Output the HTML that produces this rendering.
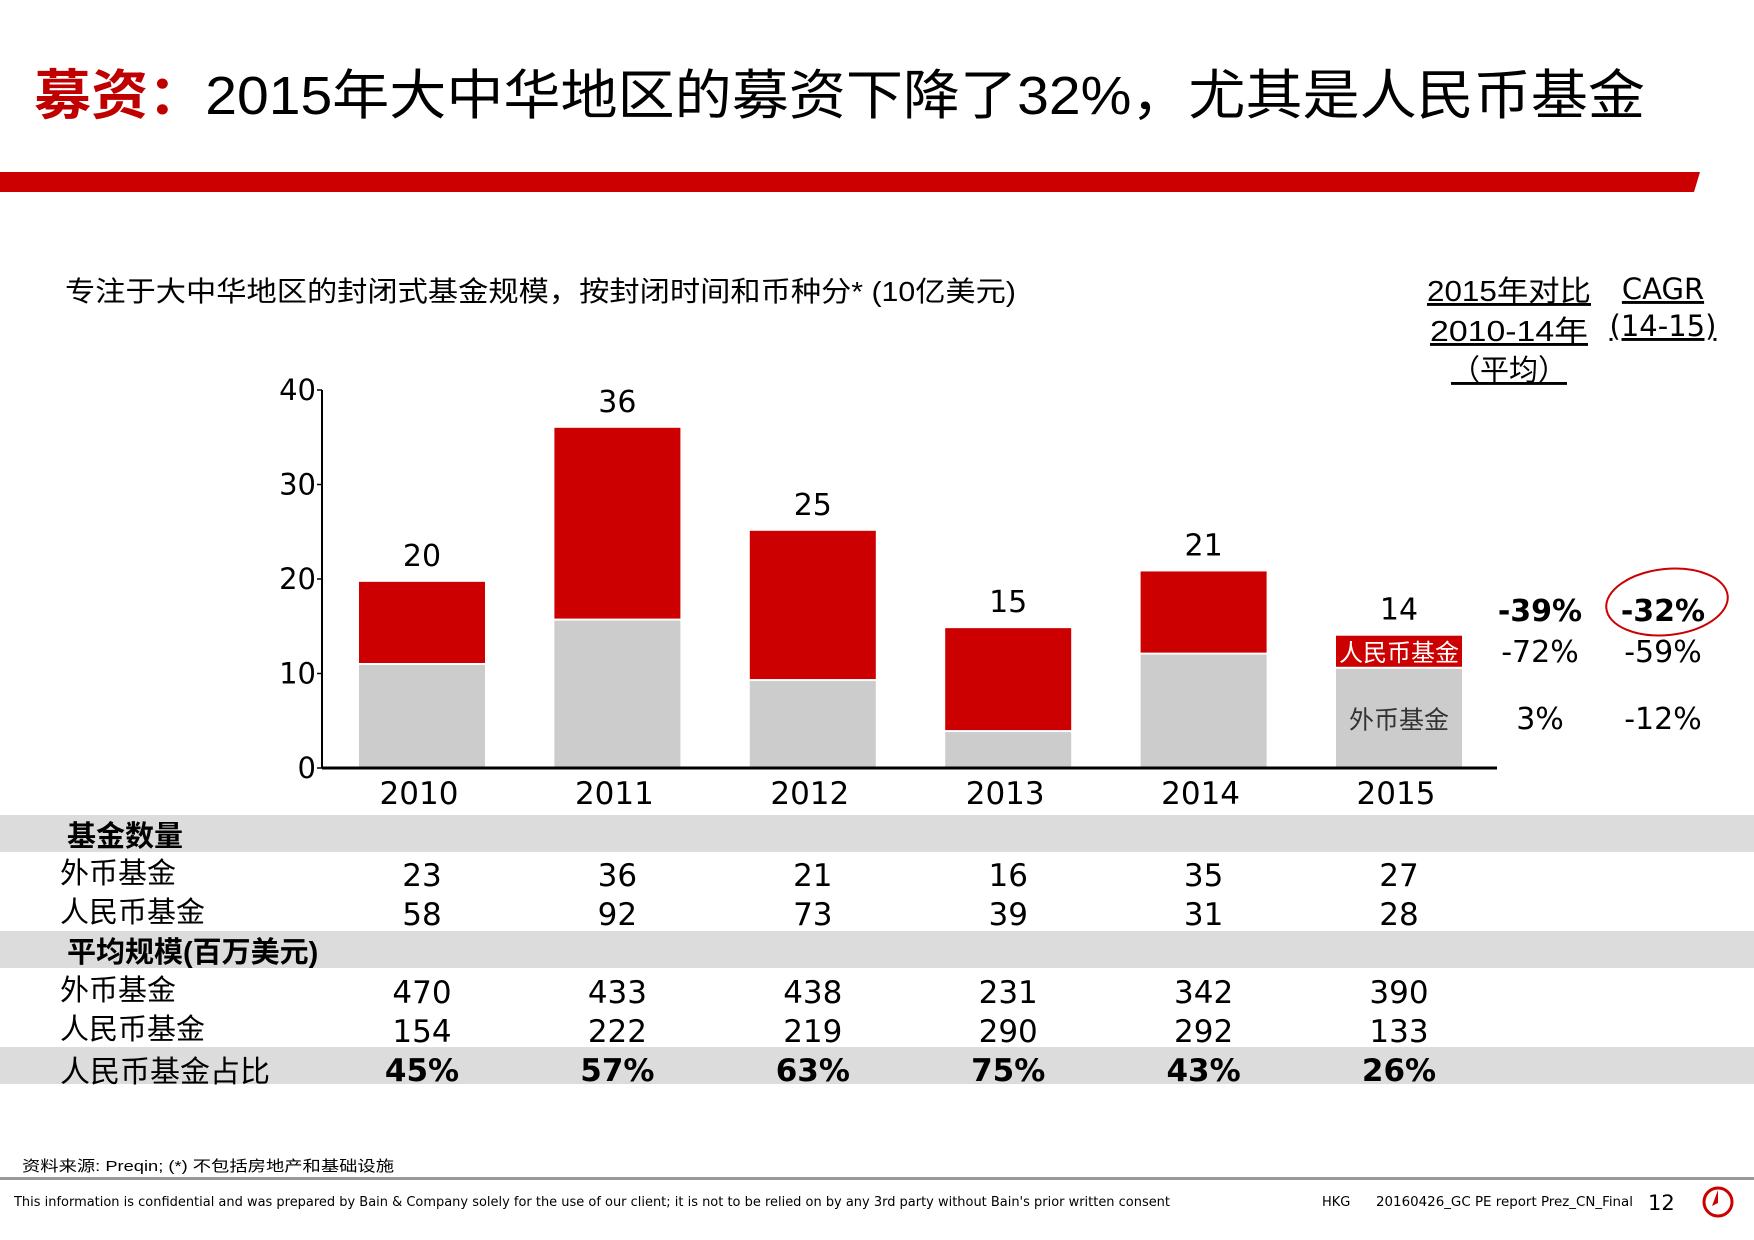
<!DOCTYPE html>
<html><head><meta charset="utf-8"><style>
html,body{margin:0;padding:0;background:#fff;}
svg{display:block;font-family:"DejaVu Sans","Liberation Sans","Noto Sans CJK SC",sans-serif;}
</style></head><body>
<svg id="c" width="1754" height="1240" viewBox="0 0 1754 1240" xmlns="http://www.w3.org/2000/svg">
<g>
<text x="34" y="114" font-size="54" textLength="1611" lengthAdjust="spacingAndGlyphs" font-family="Liberation Sans,Noto Sans CJK SC,sans-serif"><tspan fill="#c00000" font-weight="bold">募资：</tspan><tspan fill="#000">2015年大中华地区的募资下降了32%，尤其是人民币基金</tspan></text>
</g>
<polygon points="0,172 1700,172 1694,192 0,192" fill="#cc0000"/>
<text x="65" y="301" font-size="28" textLength="951" lengthAdjust="spacingAndGlyphs" fill="#000" font-family="Liberation Sans,Noto Sans CJK SC,sans-serif">专注于大中华地区的封闭式基金规模，按封闭时间和币种分* (10亿美元)</text>
<g font-size="29" fill="#000" text-anchor="middle" text-decoration="underline" font-family="Liberation Sans,Noto Sans CJK SC,sans-serif">
<text x="1509" y="301" textLength="164" lengthAdjust="spacingAndGlyphs">2015年对比</text>
<text x="1509" y="341" textLength="158" lengthAdjust="spacingAndGlyphs">2010-14年</text>
<text x="1509" y="380">（平均）</text>
</g>
<g font-size="29" fill="#000" text-anchor="middle" text-decoration="underline">
<text x="1663" y="299">CAGR</text>
<text x="1663" y="336">(14-15)</text>
</g>
<g id="chart"></g>
<ellipse cx="1667" cy="602" rx="61" ry="33" fill="none" stroke="#cc0000" stroke-width="2" transform="rotate(-6 1667 602)"/>
<g id="table"></g>
<text x="22" y="1171" font-size="15" fill="#000" textLength="372" lengthAdjust="spacingAndGlyphs" font-family="Liberation Sans,Noto Sans CJK SC,sans-serif">资料来源: Preqin; (*) 不包括房地产和基础设施</text>
<rect x="0" y="1177" width="1754" height="3" fill="#999"/>
<text x="14" y="1206" font-size="13" fill="#000" textLength="1156" lengthAdjust="spacingAndGlyphs">This information is confidential and was prepared by Bain &amp; Company solely for the use of our client; it is not to be relied on by any 3rd party without Bain's prior written consent</text>
<text x="1322" y="1206" font-size="13" fill="#000">HKG</text>
<text x="1376" y="1206" font-size="13" fill="#000" textLength="257" lengthAdjust="spacingAndGlyphs">20160426_GC PE report Prez_CN_Final</text>
<text x="1648" y="1210" font-size="21" fill="#000">12</text>
<g>
<circle cx="1718" cy="1202" r="14" fill="none" stroke="#cc0000" stroke-width="3"/>
<polygon points="1718,1190 1712,1206 1718,1203" fill="#cc0000"/>
</g>
</svg>
<script>
const years = ["2010","2011","2012","2013","2014","2015"];
const foreignValues = [10.9, 15.6, 9.2, 3.8, 12.0, 10.5];
const rmbValues = [8.8, 20.4, 15.9, 11.0, 8.8, 3.5];
const totalLabels = ["20","36","25","15","21","14"];
const yTicks = [0,10,20,30,40];
const rowLabels = ["外币基金","人民币基金","外币基金","人民币基金","人民币基金占比"];
const countForeign = ["23","36","21","16","35","27"];
const countRmb = ["58","92","73","39","31","28"];
const sizeForeign = ["470","433","438","231","342","390"];
const sizeRmb = ["154","222","219","290","292","133"];
const rmbShare = ["45%","57%","63%","75%","43%","26%"];
const cmpTotal = ["-39%","-32%"];
const cmpRmb = ["-72%","-59%"];
const cmpForeign = ["3%","-12%"];

const NS = "http://www.w3.org/2000/svg";
function mk(tag, attrs, parent, txt){const e=document.createElementNS(NS,tag);for(const k in attrs)e.setAttribute(k,attrs[k]);if(txt!==undefined)e.textContent=txt;parent.appendChild(e);return e;}
const chart = document.getElementById("chart");
const y0 = 768, yPer = 9.45, x0 = 322, xEnd = 1497;
const yScale = v => y0 - v*yPer;
const xCenter = i => 422 + i*195.4;
const bw = 126;

for (const t of yTicks){
  const tx = mk("text",{x:x0-6,y:yScale(t)+10,"font-size":29,"text-anchor":"end",fill:"#000"},chart,String(t));
  
  
  const tk = mk("line",{x1:x0-5,x2:x0,y1:yScale(t),y2:yScale(t),stroke:"#000","stroke-width":1.5},chart);
  
  
}
years.forEach((yr,i)=>{
  const cx = xCenter(i), x = cx-bw/2;
  const f = foreignValues[i], r = rmbValues[i];
  const g = mk("rect",{x:x,y:yScale(f),width:bw,height:y0-yScale(f),fill:"#cccccc"},chart);
  
  
  const rd = mk("rect",{x:x,y:yScale(f+r),width:bw,height:yScale(f)-yScale(f+r)-2,fill:"#cc0000"},chart);
  
  
  const tl = mk("text",{x:cx,y:yScale(f+r)-16,"font-size":30,"text-anchor":"middle",fill:"#000"},chart,totalLabels[i]);
  
  
  const xl = mk("text",{x:cx-3,y:804,"font-size":31,"text-anchor":"middle",fill:"#000"},chart,yr);
  
  
  if(i===years.length-1){
    const a = mk("text",{x:cx,y:yScale(f+r/2)+9,"font-size":24,"text-anchor":"middle",fill:"#fff","font-family":"Liberation Sans,Noto Sans CJK SC,sans-serif"},chart,"人民币基金");
    
    
    const b = mk("text",{x:cx,y:yScale(f/2)+10,"font-size":25,"text-anchor":"middle",fill:"#333","font-family":"Liberation Sans,Noto Sans CJK SC,sans-serif"},chart,"外币基金");
    
    
  }
});
const ax = mk("line",{x1:x0,x2:x0,y1:yScale(40),y2:y0,stroke:"#000","stroke-width":2},chart);


const bx = mk("line",{x1:x0,x2:xEnd,y1:y0,y2:y0,stroke:"#000","stroke-width":3},chart);



const cmpX = [1540,1663];
[[cmpTotal,611,true],[cmpRmb,652,false],[cmpForeign,719,false]].forEach(([arr,y,bold],ri)=>{
  arr.forEach((v,ci)=>{
    const t = mk("text",{x:cmpX[ci],y:y+10,"font-size":30,"text-anchor":"middle",fill:"#000","font-weight":bold?"bold":"normal"},chart,v);
    
    
  });
});

const table = document.getElementById("table");
[[815,37],[931,37],[1047,37]].forEach(([y,h])=>{
  const r = mk("rect",{x:0,y:y,width:1754,height:h,fill:"#dcdcdc"},table);
  
  
});
const h1 = mk("text",{x:67,y:846,"font-size":29,"font-weight":"bold",fill:"#000","font-family":"Liberation Sans,Noto Sans CJK SC,sans-serif"},table,"基金数量");


const h2 = mk("text",{x:67,y:962,"font-size":29,"font-weight":"bold",fill:"#000","font-family":"Liberation Sans,Noto Sans CJK SC,sans-serif"},table,"平均规模(百万美元)");


const rows = [[countForeign,886,false],[countRmb,925,false],[sizeForeign,1003,false],[sizeRmb,1042,false],[rmbShare,1081,true]];
rows.forEach(([arr,y,bold],ri)=>{
  const l = mk("text",{x:60,y:ri===4?y+1:y-3,"font-size":ri===4?30:29,fill:"#000","font-family":"Liberation Sans,Noto Sans CJK SC,sans-serif"},table,rowLabels[ri]);
  
  
  arr.forEach((v,i)=>{
    const t = mk("text",{x:xCenter(i),y:y,"font-size":31,"text-anchor":"middle",fill:"#000","font-weight":bold?"bold":"normal"},table,v);
    
    
  });
});
</script>
</body></html>
